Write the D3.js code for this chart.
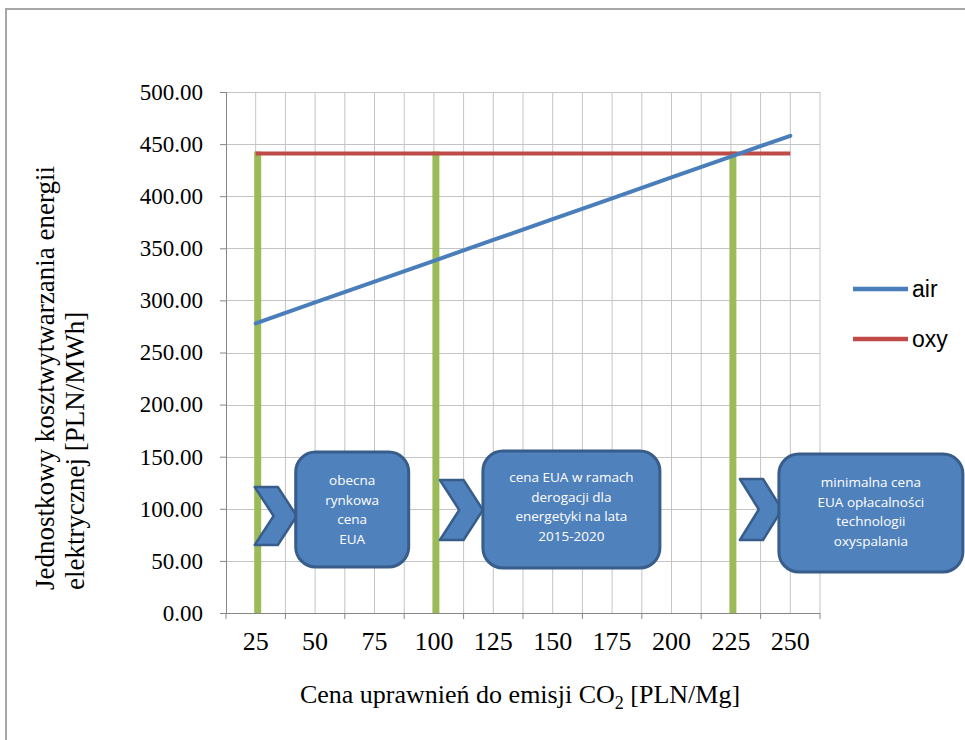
<!DOCTYPE html>
<html>
<head>
<meta charset="utf-8">
<script src="https://cdn.jsdelivr.net/npm/d3@7"></script>
<style>
  body { margin: 0; background: #fff; }
  svg { display: block; }
</style>
</head>
<body>
<div id="chart"></div>
<script>
// categories on the x axis (CO2 price, PLN/Mg)
const categories = [25, 50, 75, 100, 125, 150, 175, 200, 225, 250];
// unit cost of electricity, PLN/MWh
const airValues = [278, 298, 318, 338, 358, 378, 398, 418, 438, 458];
const oxyValues = [441, 441, 441, 441, 441, 441, 441, 441, 441, 441];
const yTicks = [0, 50, 100, 150, 200, 250, 300, 350, 400, 450, 500];
const markerCats = [25, 100, 225];
const markerTop = 441;
const calloutTexts = [
    ["obecna", "rynkowa", "cena", "EUA"],
    ["cena EUA w ramach", "derogacji  dla", "energetyki na lata", "2015-2020"],
    ["minimalna cena", "EUA opłacalności", "technologii", "oxyspalania"]
];
const seriesNames = ["air", "oxy"];

const W = 965, H = 740;
const margin = {top: 92, right: 145, bottom: 127, left: 226};

const svg = d3.select("#chart").append("svg")
    .attr("width", W)
    .attr("height", H);

// outer chart frame
svg.append("rect")
    .attr("x", 6).attr("y", 9)
    .attr("width", W + 20).attr("height", H + 20)
    .attr("fill", "none")
    .attr("stroke", "#a6a6a6")
    .attr("stroke-width", 2);

let x = d3.scaleBand()
    .domain(categories)
    .range([margin.left, W - margin.right])
    .padding(0);
let y = d3.scaleLinear()
    .domain([0, 500])
    .range([H - margin.bottom, margin.top]);

let color = d3.scaleOrdinal()
    .domain(seriesNames)
    .range(["#4a7ebb", "#be4b48"]);

const bw = x.bandwidth();

// gridlines
const grid = svg.append("g").attr("class", "grid");
let vgrid = [];
categories.forEach((c) => { vgrid.push(x(c) + bw / 2); vgrid.push(x(c) + bw); });
vgrid.forEach((gx) => {
    grid.append("line")
        .attr("x1", gx).attr("x2", gx)
        .attr("y1", y(0)).attr("y2", y(500))
        .attr("stroke", "#c4c4c4").attr("stroke-width", 1);
});
yTicks.forEach((t) => {
    grid.append("line")
        .attr("x1", margin.left).attr("x2", W - margin.right)
        .attr("y1", Math.round(y(t)) + 0.5).attr("y2", Math.round(y(t)) + 0.5)
        .attr("stroke", t == 0 ? "#868686" : "#c4c4c4").attr("stroke-width", 1);
});

// y axis
const yAxis = svg.append("g")
    .attr("transform", `translate(${margin.left},0)`)
    .call(d3.axisLeft(y).tickValues(yTicks).tickSize(6).tickPadding(17).tickFormat(d3.format(".2f")));
yAxis.select(".domain").attr("stroke", "#868686");
yAxis.selectAll(".tick line").attr("stroke", "#868686");
yAxis.selectAll("text")
    .style("font-family", "'Liberation Serif', serif")
    .style("font-size", "23px")
    .attr("fill", "#000");

// x axis: ticks at the category boundaries, labels in the middle
const xAxisG = svg.append("g")
    .attr("transform", `translate(0,${y(0)})`);
const bounds = [margin.left].concat(categories.map((c) => x(c) + bw));
xAxisG.append("line")
    .attr("x1", margin.left).attr("x2", W - margin.right)
    .attr("y1", 0.5).attr("y2", 0.5)
    .attr("stroke", "#868686");
bounds.forEach((b) => {
    xAxisG.append("line")
        .attr("x1", b).attr("x2", b)
        .attr("y1", 0).attr("y2", 6)
        .attr("stroke", "#868686");
});
xAxisG.selectAll(".xlab")
    .data(categories)
    .enter()
    .append("text")
    .attr("class", "xlab")
    .attr("x", (d) => x(d) + bw / 2)
    .attr("y", 37)
    .attr("text-anchor", "middle")
    .style("font-family", "'Liberation Serif', serif")
    .style("font-size", "26px")
    .text((d) => d);

// green marker lines
svg.selectAll(".marker")
    .data(markerCats)
    .enter()
    .append("line")
    .attr("class", "marker")
    .attr("x1", (d) => x(d) + bw / 2 + 2)
    .attr("x2", (d) => x(d) + bw / 2 + 2)
    .attr("y1", y(0))
    .attr("y2", y(markerTop) - 2)
    .attr("stroke", "#9bbb59")
    .attr("stroke-width", 7);

// series lines
let line = d3.line()
    .x((d, i) => x(categories[i]) + bw / 2)
    .y((d) => y(d));
svg.append("path")
    .datum(oxyValues)
    .attr("d", line)
    .attr("fill", "none")
    .attr("stroke", color("oxy"))
    .attr("stroke-width", 4);
svg.append("path")
    .datum(airValues)
    .attr("d", line)
    .attr("fill", "none")
    .attr("stroke", color("air"))
    .attr("stroke-width", 4)
    .attr("stroke-linecap", "round");

// callouts (chevron + rounded box) next to each marker
const calloutLayout = [
    {chevX: -1, chevW: 42, chevY: 487, chevH: 58, boxX: 40, boxY: 452, boxW: 113, boxH: 115, textY: 33},
    {chevX: 6, chevW: 43, chevY: 480, chevH: 60, boxX: 49, boxY: 451, boxW: 177, boxH: 117, textY: 31},
    {chevX: 9, chevW: 42, chevY: 479, chevH: 61, boxX: 48, boxY: 454, boxW: 184, boxH: 118, textY: 33}
];
markerCats.forEach((c, i) => {
    const L = calloutLayout[i];
    const cx = x(c) + bw / 2;
    const x0 = cx + L.chevX, x1 = x0 + L.chevW, y0 = L.chevY, y1 = L.chevY + L.chevH;
    const d = L.chevW * 0.45;
    const ym = (y0 + y1) / 2;
    svg.append("path")
        .attr("d", `M${x0},${y0} L${x1 - d},${y0} L${x1},${ym} L${x1 - d},${y1} L${x0},${y1} L${x0 + d},${ym} Z`)
        .attr("fill", "#4f81bd")
        .attr("stroke", "#385d8a")
        .attr("stroke-width", 2.5)
        .attr("stroke-linejoin", "round");
    svg.append("rect")
        .attr("x", cx + L.boxX)
        .attr("y", L.boxY)
        .attr("width", L.boxW)
        .attr("height", L.boxH)
        .attr("rx", 20).attr("ry", 20)
        .attr("fill", "#4f81bd")
        .attr("stroke", "#385d8a")
        .attr("stroke-width", 3);
    const t = svg.append("text")
        .attr("text-anchor", "middle")
        .style("font-family", "'Open Sans', sans-serif")
        .style("font-size", "13.5px")
        .attr("fill", "#fff");
    calloutTexts[i].forEach((s, k) => {
        t.append("tspan")
            .attr("x", cx + L.boxX + L.boxW / 2)
            .attr("y", L.boxY + L.textY + k * 19.5)
            .text(s);
    });
});

// legend
const legend = svg.append("g").attr("transform", "translate(853,289)");
seriesNames.forEach((s, i) => {
    legend.append("line")
        .attr("x1", 0).attr("x2", 55)
        .attr("y1", i * 50).attr("y2", i * 50)
        .attr("stroke", color(s))
        .attr("stroke-width", 4.5);
    legend.append("text")
        .attr("x", 59).attr("y", i * 50 + 8)
        .style("font-family", "'Liberation Sans', sans-serif")
        .style("font-size", "23px")
        .text(s);
});

// axis titles
svg.append("text")
    .attr("x", 520).attr("y", 703)
    .attr("text-anchor", "middle")
    .style("font-family", "'Liberation Serif', serif")
    .style("font-size", "26px")
    .html("Cena uprawnień do emisji CO<tspan dy='6' font-size='18px'>2</tspan><tspan dy='-6'> [PLN/Mg]</tspan>");

const yt = svg.append("text")
    .attr("transform", "rotate(-90)")
    .attr("text-anchor", "start")
    .style("font-family", "'Liberation Serif', serif")
    .style("font-size", "27px");
yt.append("tspan").attr("x", -590).attr("y", 54).text("Jednostkowy kosztwytwarzania energii");
yt.append("tspan").attr("x", -590).attr("y", 84).text("elektrycznej [PLN/MWh]");
</script>
</body>
</html>
